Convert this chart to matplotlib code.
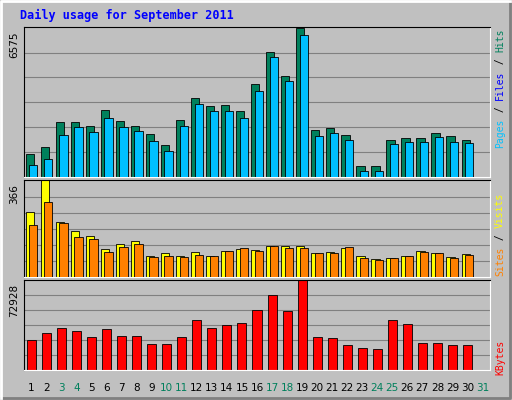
import matplotlib
matplotlib.use("Agg")
import matplotlib.pyplot as plt
import numpy as np

days = list(range(1, 32))
hits = [1015,1324,2427,2427,2250,2956,2471,2250,1897,1412,2515,3486,3133,3177,2912,4104,5516,4457,6575,2074,2162,1853,485,485,1633,1721,1721,1942,1809,1633]
files = [530,794,1853,2206,1986,2603,2206,2030,1589,1147,2250,3221,2912,2912,2603,3795,5295,4236,6266,1809,1942,1633,265,265,1456,1544,1544,1765,1544,1500]
visits = [245,366,207,174,155,106,125,136,79,91,79,94,79,98,106,102,117,117,117,91,94,109,79,68,72,79,98,91,75,87]
sites = [196,283,204,151,143,94,113,125,75,79,75,83,79,98,109,98,117,109,109,91,91,113,72,64,72,79,94,91,72,83]
kbytes = [24592,30528,33920,31376,27136,33072,27984,27984,21200,21200,27136,40704,33920,36464,38160,49184,61056,48336,72928,27136,26288,20352,17808,16960,40704,37312,22048,22048,20352,20352]
weekend = [3,4,10,11,17,18,24,25,31]

W, H = 512, 400
fig = plt.figure(figsize=(W/100, H/100), dpi=100, facecolor="#c0c0c0")
# outer frame
fr = fig.add_axes([0, 0, 1, 1]); fr.set_xlim(0, W); fr.set_ylim(H, 0); fr.axis("off")
fr.plot([1, W-2, W-2], [H-2, H-2, 1], color="#808080", lw=2)
fr.plot([1, 1, W-2], [H-2, 1, 1], color="white", lw=2)
fig.text(20/W, 1-15/H, "Daily usage for September 2011", color="#0000ff",
         family="DejaVu Sans Mono", weight="bold", fontsize=8.5, va="center")

def panel(top, bottom, vmax, label):
    ax = fig.add_axes([24/W, 1-bottom/H, (490-24)/W, (bottom-top)/H])
    ax.set_facecolor("#c0c0c0")
    ax.set_xlim(0.5, 31.5); ax.set_ylim(0, vmax*1.005)
    ax.set_xticks([]); ax.set_yticks([])
    for s in ["top", "left"]:
        ax.spines[s].set_color("black")
    for s in ["bottom", "right"]:
        ax.spines[s].set_color("white")
    for g in np.linspace(0, vmax, 7)[1:-1]:
        ax.axhline(g, color="#808080", lw=0.8, zorder=0)
    fig.text(14/W, 1-(top+4)/H, label, rotation=90, ha="center", va="top", fontsize=7.5)
    return ax

x = np.array(days[:30])
a1 = panel(27, 177, 6575, "6575")
a1.bar(x-0.12, hits, width=0.55, color="#00805c", edgecolor="black", lw=0.6, zorder=2)
a1.bar(x+0.12, files, width=0.55, color="#00c0ff", edgecolor="black", lw=0.6, zorder=3)
a2 = panel(180, 277, 366, "366")
a2.bar(x-0.12, visits, width=0.55, color="#ffff00", edgecolor="black", lw=0.6, zorder=2)
a2.bar(x+0.12, sites, width=0.55, color="#ff8000", edgecolor="black", lw=0.6, zorder=3)
a3 = panel(280, 370, 72928, "72928")
a3.bar(x, kbytes, width=0.6, color="#ff0000", edgecolor="black", lw=0.6, zorder=2)

for d in days:
    fig.text((24 + (d-0.5)*(466/31))/W, 1-388/H, str(d), ha="center", va="center",
             fontsize=7.5, color="#00805c" if d in weekend else "black")

def rlabel(y, parts):
    yy = y
    for t, c in parts:
        tx = fig.text(500/W, 1-yy/H, t, rotation=90, ha="center", va="bottom",
                      color=c, family="DejaVu Sans Mono", fontsize=7)
        yy -= len(t)*6.0
rlabel(148, [("Pages", "#00c0ff"), (" / ", "black"), ("Files", "#0000ff"), (" / ", "black"), ("Hits", "#00805c")])
rlabel(276, [("Sites", "#ff8000"), (" / ", "black"), ("Visits", "#ffff00")])
rlabel(375, [("KBytes", "#ff0000")])

fig.savefig("out.png", dpi=100, facecolor=fig.get_facecolor())
